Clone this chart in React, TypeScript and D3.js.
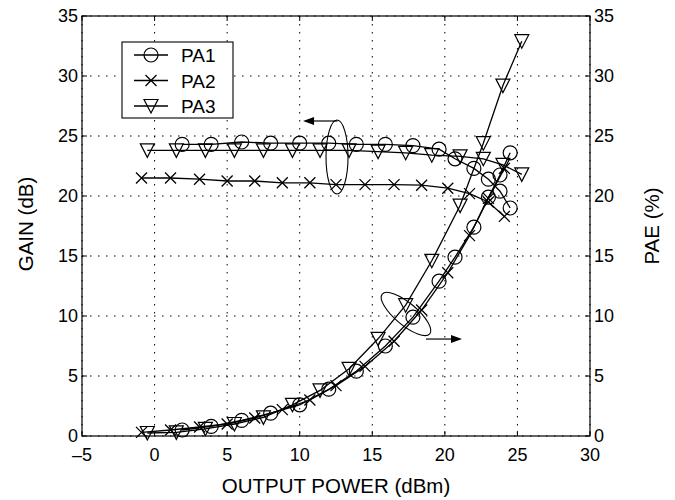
import React from 'react';
import * as d3 from 'd3';

// Output power (dBm) for each PA
const pa1Power = [1.9, 3.9, 6.0, 8.0, 10.0, 12.0, 13.9, 15.9, 17.8, 19.6, 20.7, 22.0, 23.0, 23.8, 24.5];
const pa1Gain = [24.3, 24.3, 24.5, 24.4, 24.4, 24.4, 24.3, 24.3, 24.2, 23.9, 23.1, 22.3, 21.4, 20.4, 19.0];
const pa1Pae = [0.5, 0.8, 1.3, 1.9, 2.6, 3.9, 5.4, 7.5, 9.9, 12.9, 14.9, 17.4, 19.9, 21.75, 23.6];

const pa2Power = [-0.9, 1.1, 3.1, 5.0, 6.9, 8.8, 10.7, 12.5, 14.5, 16.5, 18.4, 20.2, 21.7, 23.0, 24.1];
const pa2Gain = [21.5, 21.5, 21.4, 21.25, 21.25, 21.1, 21.1, 20.95, 20.95, 20.95, 20.9, 20.65, 20.2, 19.5, 18.3];
const pa2Pae = [0.3, 0.5, 0.75, 1.0, 1.5, 2.2, 3.0, 4.2, 5.8, 7.9, 10.5, 13.6, 16.7, 19.8, 22.3];

const pa3Power = [-0.5, 1.5, 3.5, 5.5, 7.5, 9.5, 11.4, 13.4, 15.4, 17.3, 19.1, 21.05, 22.65, 24.0, 25.3];
const pa3Gain = [23.8, 23.8, 23.8, 23.8, 23.8, 23.8, 23.8, 23.8, 23.7, 23.6, 23.4, 23.3, 23.1, 22.6, 21.8];
const pa3Pae = [0.25, 0.3, 0.6, 1.0, 1.55, 2.6, 3.8, 5.6, 8.1, 10.9, 14.6, 19.2, 24.4, 29.2, 32.9];

const seriesNames = ['PA1', 'PA2', 'PA3'];
const markerTypes = ['circle', 'x', 'triangle'];

const xTicks = [-5, 0, 5, 10, 15, 20, 25, 30];
const yTicks = [0, 5, 10, 15, 20, 25, 30, 35];
const xTickLabels = ['–5', '0', '5', '10', '15', '20', '25', '30'];

const W = 675;
const H = 500;
const L = 82, R = 590, T = 16, B = 436;
const FONT = '"Liberation Sans", Arial, Helvetica, sans-serif';

function Marker({ type, x, y }: { type: string; x: number; y: number }) {
  if (type === 'circle') {
    return <circle cx={x} cy={y} r={7} fill="none" stroke="#000" strokeWidth={1.2} />;
  }
  if (type === 'x') {
    const s = 5.5;
    return (
      <path
        d={`M${x - s},${y - s}L${x + s},${y + s}M${x - s},${y + s}L${x + s},${y - s}`}
        stroke="#000"
        strokeWidth={1.3}
        fill="none"
      />
    );
  }
  return (
    <path
      d={`M${x - 7},${y - 6.5}L${x + 7},${y - 6.5}L${x},${y + 7}Z`}
      stroke="#000"
      strokeWidth={1.2}
      fill="none"
    />
  );
}

export default function App() {
  const x = d3.scaleLinear().domain([-5, 30]).range([L, R]);
  const y = d3.scaleLinear().domain([0, 35]).range([B, T]);

  const series = [
    { name: seriesNames[0], type: markerTypes[0], p: pa1Power, g: pa1Gain, e: pa1Pae },
    { name: seriesNames[1], type: markerTypes[1], p: pa2Power, g: pa2Gain, e: pa2Pae },
    { name: seriesNames[2], type: markerTypes[2], p: pa3Power, g: pa3Gain, e: pa3Pae },
  ];

  const line = d3
    .line<[number, number]>()
    .x((d) => x(d[0]))
    .y((d) => y(d[1]));

  // annotation positions (data coords)
  const e1 = { cx: x(12.57), cy: y(23.25), rx: 11, ry: 37 };
  const a1y = y(26.25);
  const a1x0 = x(12.6);
  const a1x1 = x(10.23);
  const e2 = { cx: x(17.32), cy: y(10.17), rx: 31, ry: 11 };
  const a2y = y(8.08);
  const a2x0 = x(18.7);
  const a2x1 = x(21.18);

  return (
    <svg
      width={W}
      height={H}
      style={{ position: 'absolute', left: 0, top: 0, background: '#fff' }}
      fontFamily={FONT}
    >
      <rect x={0} y={0} width={W} height={H} fill="#fff" />
      {/* grid */}
      {xTicks.map((t) => (
        <line key={'gx' + t} x1={x(t)} x2={x(t)} y1={T} y2={B} stroke="#000" strokeWidth={1} strokeDasharray="1.5,6.5" />
      ))}
      {yTicks.map((t) => (
        <line key={'gy' + t} x1={L} x2={R} y1={y(t)} y2={y(t)} stroke="#000" strokeWidth={1} strokeDasharray="1.5,6.5" />
      ))}
      {/* ticks */}
      {xTicks.map((t) => (
        <g key={'tx' + t}>
          <line x1={x(t)} x2={x(t)} y1={B} y2={B - 5} stroke="#000" />
          <line x1={x(t)} x2={x(t)} y1={T} y2={T + 5} stroke="#000" />
        </g>
      ))}
      {yTicks.map((t) => (
        <g key={'ty' + t}>
          <line x1={L} x2={L + 5} y1={y(t)} y2={y(t)} stroke="#000" />
          <line x1={R} x2={R - 5} y1={y(t)} y2={y(t)} stroke="#000" />
        </g>
      ))}
      {/* box */}
      <rect x={L} y={T} width={R - L} height={B - T} fill="none" stroke="#000" strokeWidth={1.2} />

      {/* tick labels */}
      {xTicks.map((t, i) => (
        <text key={'lx' + t} x={x(t)} y={460.5} textAnchor="middle" fontSize={18}>
          {xTickLabels[i]}
        </text>
      ))}
      {yTicks.map((t) => (
        <text key={'ly' + t} x={78} y={y(t) + 6.3} textAnchor="end" fontSize={18}>
          {t}
        </text>
      ))}
      {yTicks.map((t) => (
        <text key={'ry' + t} x={594} y={y(t) + 6.3} textAnchor="start" fontSize={18}>
          {t}
        </text>
      ))}

      {/* axis titles */}
      <text x={(L + R) / 2} y={493} textAnchor="middle" fontSize={20.5}>
        OUTPUT POWER (dBm)
      </text>
      <text transform={`translate(33,224) rotate(-90)`} textAnchor="middle" fontSize={20.5}>
        GAIN (dB)
      </text>
      <text transform={`translate(659,226) rotate(-90)`} textAnchor="middle" fontSize={20.5}>
        PAE (%)
      </text>

      {/* data */}
      {series.map((s) => {
        const gPts = s.p.map((v, i) => [v, s.g[i]] as [number, number]);
        const ePts = s.p.map((v, i) => [v, s.e[i]] as [number, number]);
        return (
          <g key={s.name}>
            <path d={line(gPts) || ''} fill="none" stroke="#000" strokeWidth={1.3} />
            <path d={line(ePts) || ''} fill="none" stroke="#000" strokeWidth={1.3} />
            {gPts.map((d, i) => (
              <Marker key={'g' + i} type={s.type} x={x(d[0])} y={y(d[1])} />
            ))}
            {ePts.map((d, i) => (
              <Marker key={'e' + i} type={s.type} x={x(d[0])} y={y(d[1])} />
            ))}
          </g>
        );
      })}

      {/* annotations */}
      <ellipse cx={e1.cx} cy={e1.cy} rx={e1.rx} ry={e1.ry} fill="none" stroke="#000" strokeWidth={1.1} />
      <line x1={a1x0} x2={a1x1 + 9} y1={a1y} y2={a1y} stroke="#000" strokeWidth={1.2} />
      <path d={`M${a1x1},${a1y}L${a1x1 + 11},${a1y - 4}L${a1x1 + 11},${a1y + 4}Z`} fill="#000" />

      <ellipse
        cx={e2.cx}
        cy={e2.cy}
        rx={e2.rx}
        ry={e2.ry}
        transform={`rotate(40 ${e2.cx} ${e2.cy})`}
        fill="none"
        stroke="#000"
        strokeWidth={1.1}
      />
      <line x1={a2x0} x2={a2x1 - 9} y1={a2y} y2={a2y} stroke="#000" strokeWidth={1.2} />
      <path d={`M${a2x1},${a2y}L${a2x1 - 11},${a2y - 4}L${a2x1 - 11},${a2y + 4}Z`} fill="#000" />

      {/* legend */}
      <rect x={122} y={42} width={111} height={76} fill="#fff" stroke="#000" strokeWidth={1.1} />
      {series.map((s, i) => {
        const ly = 55 + i * 25.5;
        return (
          <g key={'leg' + s.name}>
            <line x1={134} x2={168} y1={ly} y2={ly} stroke="#000" strokeWidth={1.3} />
            <Marker type={s.type} x={151} y={ly} />
            <text x={181} y={ly + 7} fontSize={19}>
              {s.name}
            </text>
          </g>
        );
      })}
    </svg>
  );
}
